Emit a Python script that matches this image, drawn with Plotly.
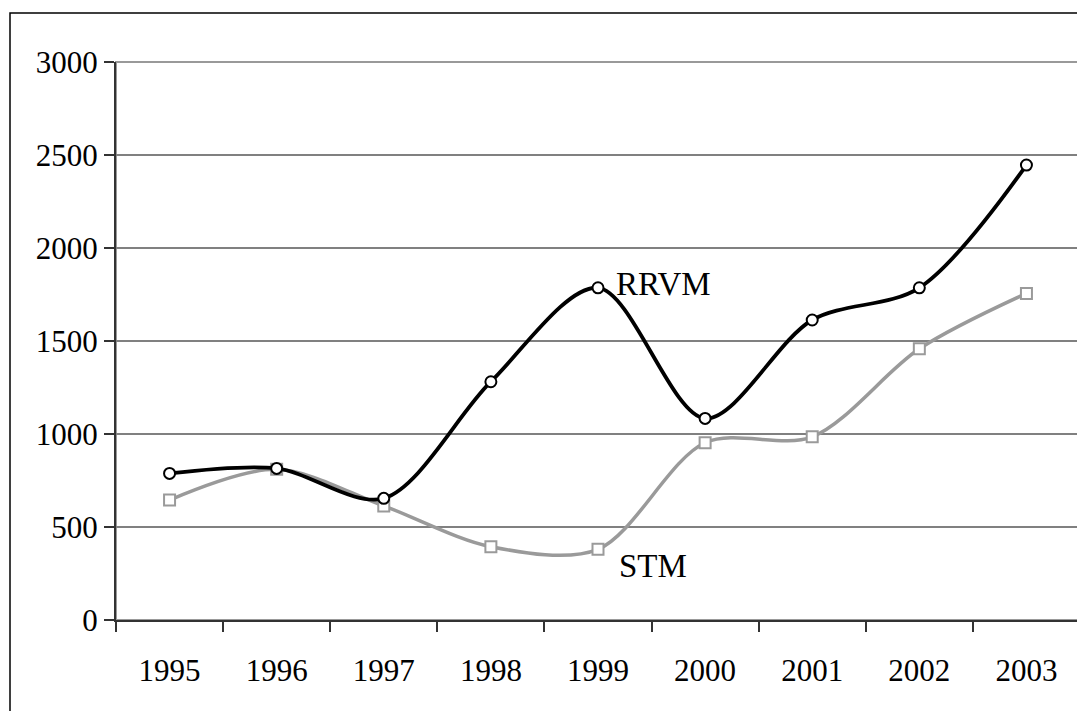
import plotly.graph_objects as go

years = ["1995", "1996", "1997", "1998", "1999", "2000", "2001", "2002", "2003"]
rrvm = [788, 815, 654, 1281, 1786, 1084, 1613, 1786, 2446]
stm = [645, 810, 613, 394, 380, 953, 985, 1458, 1756]
y_ticks = [0, 500, 1000, 1500, 2000, 2500, 3000]
labels = ["RRVM", "STM"]
label_y = [1806, 290]

FONT = "Liberation Serif, Times New Roman, serif"

# The page body has an 8px default margin, so the figure is sized 8px smaller.
W, H = 1077, 703
L, R, T, B = 108, 5, 54, 91
PW, PH = W - L - R, H - T - B

fig = go.Figure()
fig.add_trace(go.Scatter(
    x=years, y=stm, name="STM", mode="lines+markers",
    line=dict(color="#9a9a9a", width=3.5, shape="spline", smoothing=0.9),
    marker=dict(symbol="square", size=11, color="white",
                line=dict(color="#9a9a9a", width=2)),
    cliponaxis=False,
))
fig.add_trace(go.Scatter(
    x=years, y=rrvm, name="RRVM", mode="lines+markers",
    line=dict(color="black", width=3.8, shape="spline", smoothing=0.9),
    marker=dict(symbol="circle", size=11, color="white",
                line=dict(color="black", width=2)),
    cliponaxis=False,
))

idx_1999 = years.index("1999")
for txt, yv, xs in zip(labels, label_y, [16, 19]):
    fig.add_annotation(x=idx_1999, y=yv, xref="x", yref="y", text=txt,
                       showarrow=False, xanchor="left", yanchor="middle", xshift=xs,
                       font=dict(family=FONT, size=33, color="black"))

# plot-area border (grey) and outer chart border (black)
fig.add_shape(type="rect", xref="paper", yref="paper", x0=0, x1=1, y0=0, y1=1,
              line=dict(color="#999999", width=2), layer="below")
fig.add_shape(type="rect", xref="paper", yref="paper",
              x0=(2 - L) / PW, x1=(W + 20 - L) / PW,
              y0=(T + PH - (H + 20)) / PH, y1=(T + PH - 5) / PH,
              line=dict(color="black", width=1.5), layer="below")

fig.update_layout(
    width=W, height=H,
    margin=dict(l=L, r=R, t=T, b=B),
    paper_bgcolor="white", plot_bgcolor="white",
    showlegend=False,
    font=dict(family=FONT, size=31, color="black"),
    xaxis=dict(
        type="category", range=[-0.5, 8.5], tickson="boundaries",
        ticks="outside", ticklen=10, tickwidth=1.5, tickcolor="#333333",
        ticklabelstandoff=22,
        showline=True, linecolor="#333333", linewidth=2,
        showgrid=False, zeroline=False,
        tickfont=dict(family=FONT, size=31, color="black"),
    ),
    yaxis=dict(
        range=[0, 3000], tickvals=y_ticks,
        ticks="outside", ticklen=10, tickwidth=1.5, tickcolor="#333333",
        showline=True, linecolor="#333333", linewidth=2,
        showgrid=True, gridcolor="#808080", gridwidth=1.5,
        zeroline=False,
        tickfont=dict(family=FONT, size=31, color="black"),
    ),
)

fig.write_html("out.html")
